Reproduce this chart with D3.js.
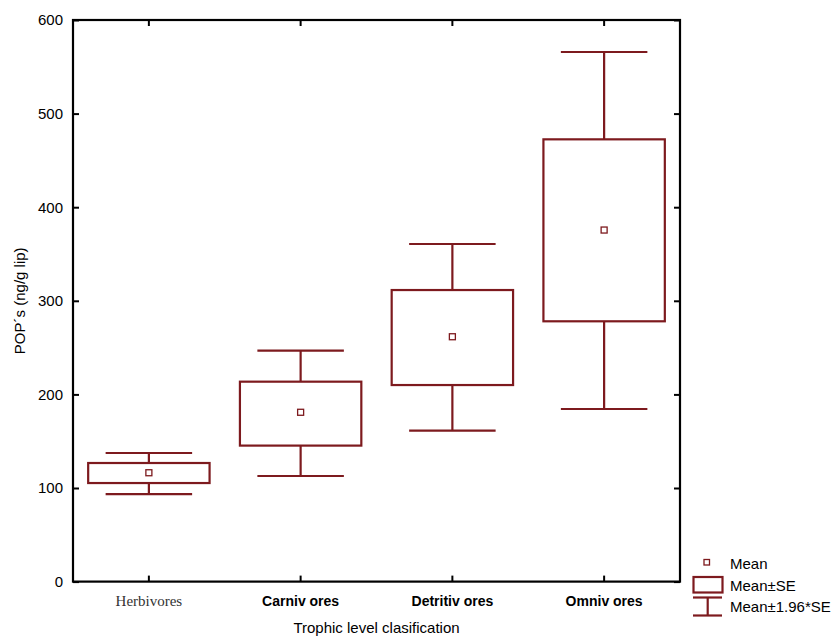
<!DOCTYPE html>
<html lang="en">
<head>
    <meta charset="UTF-8">
    <script src="https://cdnjs.cloudflare.com/ajax/libs/d3/7.8.5/d3.min.js"></script>
    <style>
        body { margin: 0; background: #fff; }
    </style>
</head>
<body>
    <script>
        // values
        var groups = ["Herbivores", "Carniv ores", "Detritiv ores", "Omniv ores"];
        var means = [116.3, 180.9, 261.6, 375.6];
        var seLow = [105.3, 145.3, 210.0, 278.1];
        var seHigh = [126.7, 213.6, 311.5, 472.5];
        var ciLow = [93.4, 112.8, 161.2, 184.4];
        var ciHigh = [137.4, 246.7, 360.7, 565.8];
        var yTicks = [0, 100, 200, 300, 400, 500, 600];
        var legendLabels = ["Mean", "Mean\u00b1SE", "Mean\u00b11.96*SE"];

        var red = "#7d1a1e";
        var sans = "Arial, 'Liberation Sans', sans-serif";
        var serif = "'Liberation Serif', 'Times New Roman', serif";
        var W = 835, H = 636;
        var pLeft = 73, pRight = 680, pTop = 20, pBottom = 581.6;

        var svg = d3.select("body").append("svg")
            .attr("width", W)
            .attr("height", H)
            .style("font-family", sans);

        var x = d3.scaleBand().domain(groups).range([pLeft, pRight]);
        var y = d3.scaleLinear().domain([0, 600]).range([pBottom, pTop]);

        var bw = x.bandwidth();
        var boxW = bw * 0.8, capW = bw * 0.57;

        var rows = groups.map(function(g, i) {
            return {g: g, mean: means[i], lo: seLow[i], hi: seHigh[i], cl: ciLow[i], ch: ciHigh[i], i: i};
        });

        // axes, ticks pointing inward on all four sides
        var yl = svg.append("g").attr("transform", "translate(" + pLeft + ",0)")
            .call(d3.axisLeft(y).tickValues(yTicks).tickSizeInner(-6).tickSizeOuter(0).tickPadding(10));
        var yr = svg.append("g").attr("transform", "translate(" + pRight + ",0)")
            .call(d3.axisRight(y).tickValues(yTicks).tickSizeInner(-6).tickSizeOuter(0).tickFormat(""));
        var xb = svg.append("g").attr("transform", "translate(0," + pBottom + ")")
            .call(d3.axisBottom(x).tickSizeInner(-6).tickSizeOuter(0).tickPadding(14));
        var xt = svg.append("g").attr("transform", "translate(0," + pTop + ")")
            .call(d3.axisTop(x).tickSizeInner(-6).tickSizeOuter(0).tickFormat(""));

        [yl, yr, xb, xt].forEach(function(a) {
            a.select(".domain").remove();
            a.selectAll(".tick line").attr("stroke", "#000").attr("stroke-width", 2);
        });
        yl.selectAll("text").style("font-size", "15px").attr("fill", "#000").style("font-family", sans);
        xb.selectAll("text")
            .attr("fill", function(d, i) { return i == 0 ? "#333" : "#000"; })
            .style("font-size", function(d, i) { return i == 0 ? "15px" : "14px"; })
            .style("font-weight", function(d, i) { return i == 0 ? "normal" : "bold"; })
            .style("font-family", function(d, i) { return i == 0 ? serif : sans; });

        svg.append("rect")
            .attr("x", pLeft).attr("y", pTop)
            .attr("width", pRight - pLeft).attr("height", pBottom - pTop)
            .attr("fill", "none").attr("stroke", "#000").attr("stroke-width", 2.2);

        // boxes and whiskers
        var cx = function(d) { return x(d.g) + bw / 2; };
        var g = svg.append("g").attr("stroke", red).attr("stroke-width", 2.2).attr("fill", "none");

        g.selectAll(".whiskHi").data(rows).enter().append("line")
            .attr("x1", cx).attr("x2", cx)
            .attr("y1", d => y(d.ch)).attr("y2", d => y(d.hi));
        g.selectAll(".whiskLo").data(rows).enter().append("line")
            .attr("x1", cx).attr("x2", cx)
            .attr("y1", d => y(d.lo)).attr("y2", d => y(d.cl));
        g.selectAll(".capHi").data(rows).enter().append("line")
            .attr("x1", d => cx(d) - capW / 2).attr("x2", d => cx(d) + capW / 2)
            .attr("y1", d => y(d.ch)).attr("y2", d => y(d.ch));
        g.selectAll(".capLo").data(rows).enter().append("line")
            .attr("x1", d => cx(d) - capW / 2).attr("x2", d => cx(d) + capW / 2)
            .attr("y1", d => y(d.cl)).attr("y2", d => y(d.cl));
        g.selectAll(".box").data(rows).enter().append("rect")
            .attr("x", d => cx(d) - boxW / 2).attr("width", boxW)
            .attr("y", d => y(d.hi)).attr("height", d => y(d.lo) - y(d.hi));
        g.selectAll(".mean").data(rows).enter().append("rect")
            .attr("x", d => cx(d) - 3).attr("y", d => y(d.mean) - 3)
            .attr("width", 6).attr("height", 6)
            .attr("stroke-width", 1.3).attr("fill", "#fff");

        // axis titles
        svg.append("text")
            .attr("x", (pLeft + pRight) / 2).attr("y", 633)
            .attr("text-anchor", "middle").style("font-size", "15px")
            .text("Trophic level clasification");
        svg.append("text")
            .attr("transform", "translate(25," + (pTop + pBottom) / 2 + ") rotate(-90)")
            .attr("text-anchor", "middle").style("font-size", "15px")
            .text("POP\u00b4s (ng/g lip)");

        // legend
        var lg = svg.append("g").attr("stroke", red).attr("fill", "none");
        lg.append("rect").attr("x", 704).attr("y", 559.5).attr("width", 5.5).attr("height", 5.5)
            .attr("stroke-width", 1.3);
        lg.append("rect").attr("x", 693.5).attr("y", 577).attr("width", 29).attr("height", 15.5)
            .attr("stroke-width", 2.2);
        lg.append("line").attr("x1", 693).attr("x2", 722).attr("y1", 597.5).attr("y2", 597.5).attr("stroke-width", 2.2);
        lg.append("line").attr("x1", 693).attr("x2", 722).attr("y1", 615.5).attr("y2", 615.5).attr("stroke-width", 2.2);
        lg.append("line").attr("x1", 707.7).attr("x2", 707.7).attr("y1", 597.5).attr("y2", 615.5).attr("stroke-width", 2.2);

        svg.selectAll(".legText").data(legendLabels).enter().append("text")
            .attr("x", 730)
            .attr("y", (d, i) => 569 + i * 21.5)
            .style("font-size", "15px")
            .attr("fill", "#000")
            .text(d => d);
    </script>
</body>
</html>
